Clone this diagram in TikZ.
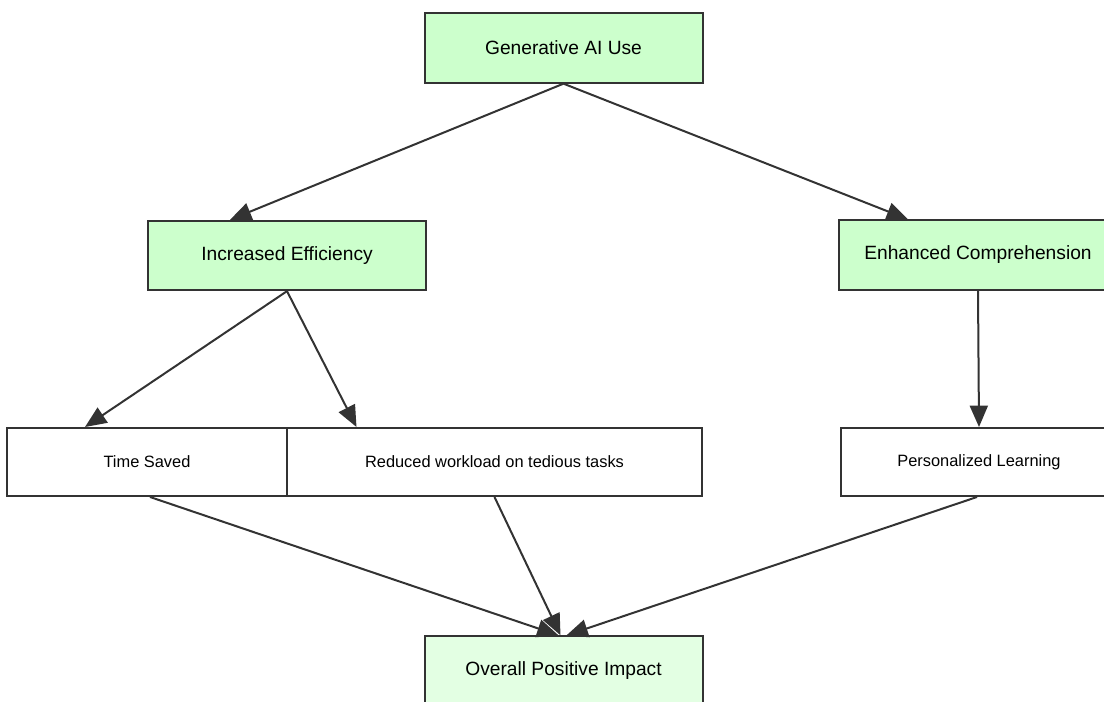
\documentclass[tikz,border=0pt]{standalone}
\usepackage{fontspec}
\setmainfont{Liberation Sans}
\usetikzlibrary{arrows.meta}
\usetikzlibrary{calc}

\definecolor{nodegreen}{HTML}{CCFFCC}
\definecolor{paleGreen}{HTML}{E3FFE3}
\definecolor{edgegray}{HTML}{333333}

\begin{document}
\begin{tikzpicture}[x=0.75pt,y=-0.75pt,>={Triangle[length=16pt,width=13.5pt]},
    box/.style={draw=edgegray,line width=1.5pt,inner sep=0pt,minimum height=52pt},
    mainbox/.style={box,fill=nodegreen,minimum width=208.5pt,font=\fontsize{14.4pt}{17pt}\selectfont},
    subbox/.style={box,fill=white,minimum height=51pt,font=\fontsize{12.3pt}{15pt}\selectfont},
    link/.style={->,draw=edgegray,line width=1.5pt}]
        \path[use as bounding box,clip] (0,0) rectangle (1104,702);

        \node[mainbox] (gen) at (563.5,48) {Generative AI Use};
        \node[mainbox] (eff) at (287,255.5) {Increased Efficiency};
        \node[mainbox] (comp) at (978,255) {Enhanced Comprehension};

        \node[subbox,minimum width=210pt] (time) at (147,462) {Time Saved};
        \node[subbox,minimum width=311pt] (work) at (494.5,462) {Reduced workload on tedious tasks};
        \node[subbox,minimum width=207pt] (pers) at (979,462) {Personalized Learning};

        \node[mainbox,fill=paleGreen] (impact) at (563.5,671) {Overall Positive Impact};

        % first level
        \draw[link] (gen.south) -- ($(eff.north)+(-57,0)$);
        \draw[link] (gen.south) -- ($(comp.north)+(-70,0)$);

        % second level
        \draw[link] (eff.south) -- ($(time.north)+(-62,0)$);
        \draw[link] (eff.south) -- ($(work.north)+(-138,0)$);
        \draw[link] (comp.south) -- (pers.north);

        % into the result
        \draw[link] ($(time.south)+(3,0)$) -- ($(impact.north)+(-5,0)$);
        \draw[link] (work.south) -- ($(impact.north)+(-3,0)$);
        \draw[link] ($(pers.south)+(-2,0)$) -- ($(impact.north)+(3,0)$);
\end{tikzpicture}
\end{document}
